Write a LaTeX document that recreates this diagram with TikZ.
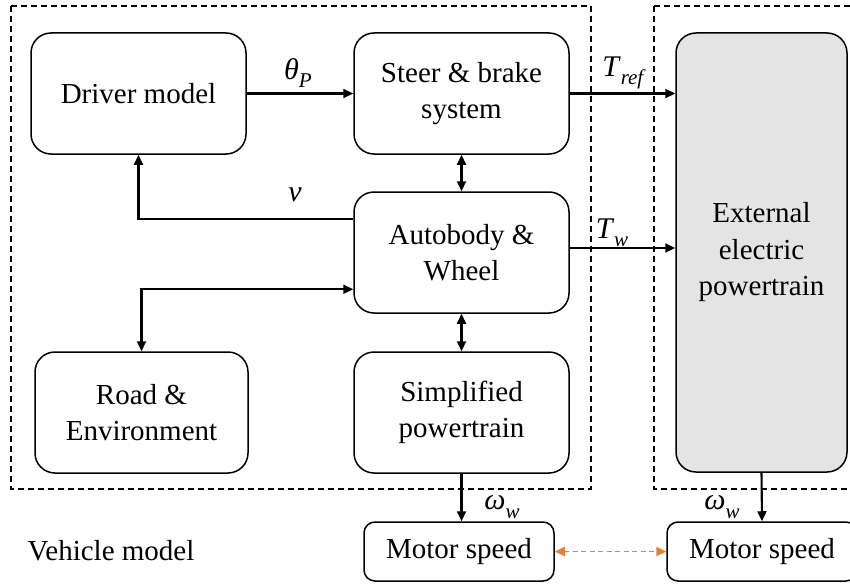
\documentclass[tikz,border=0pt]{standalone}
\usepackage{fontspec}
\setmainfont{Liberation Serif}
\usetikzlibrary{arrows.meta,calc}
\definecolor{panelgray}{HTML}{E4E4E4}
\definecolor{linkorange}{HTML}{ED7D31}
\newcommand{\sigsub}[2]{\textit{#1}\raisebox{-0.28em}{\fontsize{21}{22}\selectfont\textit{#2}}}
\tikzset{
  block/.style={draw, line width=1.5pt, rounded corners=20pt, align=center,
    minimum width=215pt, minimum height=121pt, inner sep=0pt,
    font=\fontsize{29}{36.5}\selectfont},
  smallblock/.style={draw, line width=1.5pt, rounded corners=11pt, align=center,
    minimum width=190pt, minimum height=59pt, inner sep=0pt,
    font=\fontsize{29}{34}\selectfont},
  frame/.style={draw, line width=1.2pt, dash pattern=on 6pt off 4pt},
  flow/.style={line width=2.1pt, -{Triangle[length=10pt,width=9pt]}},
  biflow/.style={line width=2.1pt, {Triangle[length=10pt,width=9pt]}-{Triangle[length=10pt,width=9pt]}},
  sig/.style={font=\fontsize{30}{32}\selectfont, inner sep=0pt},
}
\begin{document}
\begin{tikzpicture}[x=1pt,y=-1pt]
\useasboundingbox (0,0) rectangle (850,583);

% subsystem frames
\draw[frame] (11,6) rectangle (591,489);
\draw[frame] (654,6) -- (870,6);
\draw[frame] (654,6) -- (654,489) -- (870,489);

% blocks
\node[block] (driver) at (138.5,93.5) {Driver model};
\node[block] (steer)  at (461.5,93.5) {Steer \& brake\\system};
\node[block] (auto)   at (461.5,252.5) {Autobody \&\\Wheel};
\node[block, minimum width=213pt] (road) at (141.5,412.5) {Road \&\\Environment};
\node[block] (simp)   at (461.5,412.5) {Simplified\\powertrain};
\node[block, fill=panelgray, minimum width=171pt, minimum height=439pt] (ext)
  at (761.5,252.5) {External\\electric\\powertrain};
\node[smallblock] (ms1) at (459,551.5) {Motor speed};
\node[smallblock] (ms2) at (762,551.5) {Motor speed};
\node[font=\fontsize{29}{34}\selectfont] (title) at (111,551) {Vehicle model};

% connectors
\draw[flow] (driver.east) -- (driver.east -| steer.west);
\draw[flow] (steer.east) -- (steer.east -| ext.west);
\coordinate (tw) at ($(auto.east)+(0,-4.5)$);
\draw[flow] (tw) -- (tw -| ext.west);
\draw[biflow] (steer.south) -- (auto.north);
\draw[biflow] (auto.south) -- (simp.north);
\coordinate (vout) at ($(auto.north west)!0.23!(auto.south west)$);
\draw[flow] (vout) -| (driver.south);
\coordinate (rin) at ($(auto.north west)!0.8!(auto.south west)$);
\draw[biflow] (road.north) |- (rin);
\draw[flow] (simp.south) -- (simp.south |- ms1.north);
\draw[flow] (ext.south) -- (ms2.north);
\draw[linkorange, line width=1.8pt, dash pattern=on 5pt off 3.5pt,
  {Triangle[length=10pt,width=9pt]}-{Triangle[length=10pt,width=9pt]}] (ms1.east) -- (ms2.west);

% signal labels
\node[sig] (lth)  at (298,73)  {\sigsub{θ}{P}};
\node[sig] (ltr)  at (624,73)  {\sigsub{T}{ref}};
\node[sig] (ltw)  at (612,233) {\sigsub{T}{w}};
\node[sig] (lv)   at (295,195) {\textit{v}};
\node[sig] (lw1)  at (502,507) {\sigsub{ω}{w}};
\node[sig] (lw2)  at (722,507) {\sigsub{ω}{w}};
\end{tikzpicture}
\end{document}
